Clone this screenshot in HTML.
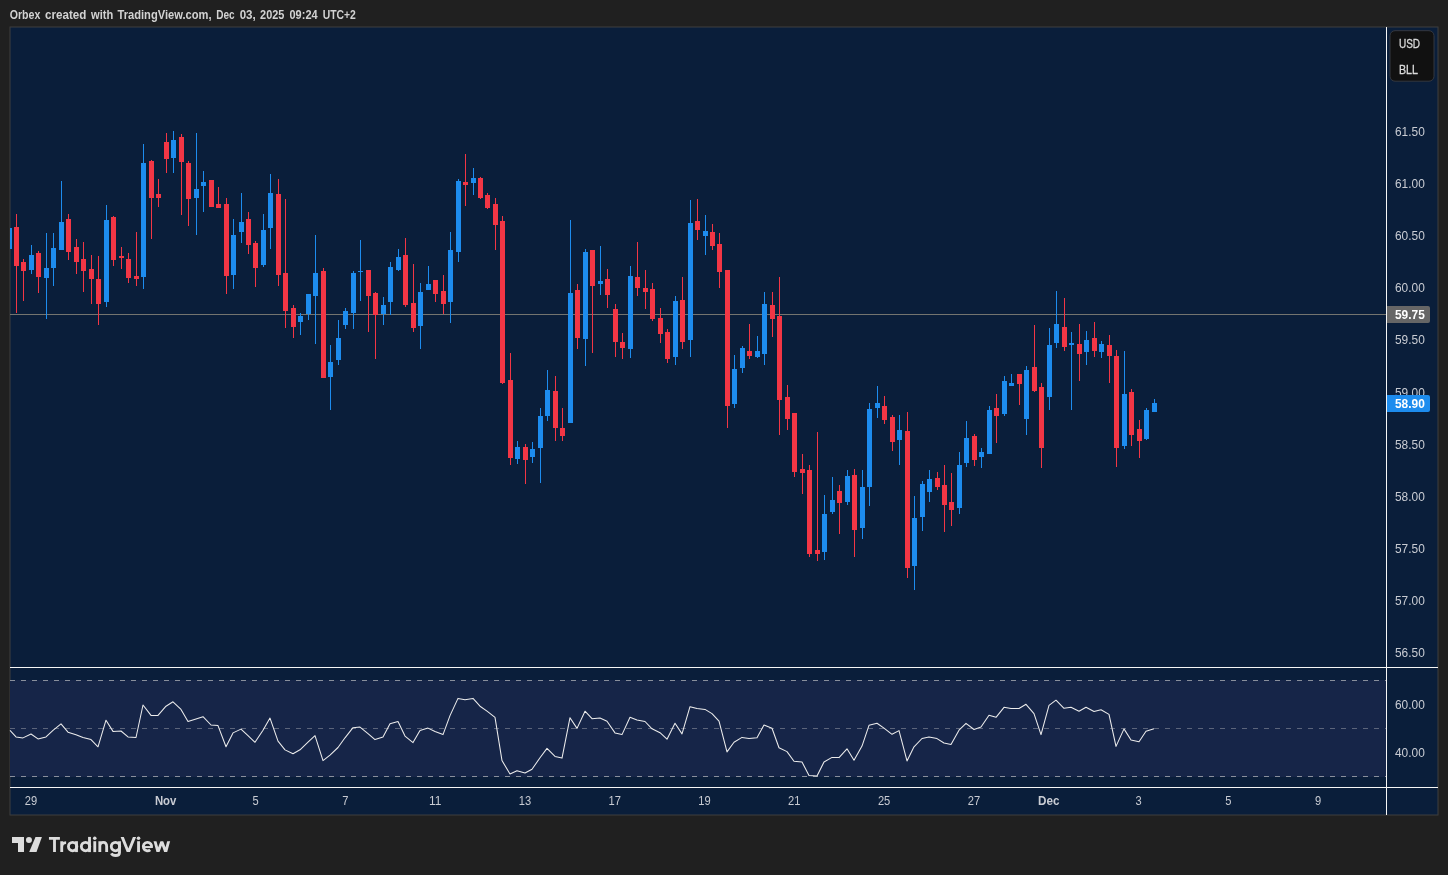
<!DOCTYPE html>
<html><head><meta charset="utf-8"><title>chart</title>
<style>
html,body{margin:0;padding:0;}
body{width:1448px;height:875px;background:#202020;overflow:hidden;position:relative;font-family:"Liberation Sans",sans-serif;}
svg{position:absolute;left:0;top:0;will-change:transform;}
text{font-family:"Liberation Sans",sans-serif;}
</style></head><body>
<svg width="1448" height="875" viewBox="0 0 1448 875">
<rect x="10" y="27" width="1428" height="788" fill="#0a1e3a" stroke="#3e3e3e" stroke-width="1"/>
<defs><clipPath id="cp"><rect x="10" y="27" width="1376" height="640"/></clipPath></defs>
<rect x="10" y="680" width="1376" height="97" fill="#162548" shape-rendering="crispEdges"/>
<line x1="10" y1="680.5" x2="1386" y2="680.5" stroke="#d0d0d0" stroke-opacity="0.62" stroke-width="1" stroke-dasharray="5 6" shape-rendering="crispEdges"/>
<line x1="10" y1="728.5" x2="1386" y2="728.5" stroke="#d0d0d0" stroke-opacity="0.38" stroke-width="1" stroke-dasharray="5 6" shape-rendering="crispEdges"/>
<line x1="10" y1="776.5" x2="1386" y2="776.5" stroke="#d0d0d0" stroke-opacity="0.62" stroke-width="1" stroke-dasharray="5 6" shape-rendering="crispEdges"/>
<rect x="10" y="314" width="1376" height="1" fill="#74746f" shape-rendering="crispEdges"/>
<g clip-path="url(#cp)" shape-rendering="crispEdges">
<rect x="9" y="228" width="1" height="21" fill="#1d8cee"/>
<rect x="7" y="228" width="5" height="21" fill="#1d8cee"/>
<rect x="16" y="214" width="1" height="99" fill="#f23645"/>
<rect x="14" y="227" width="5" height="39" fill="#f23645"/>
<rect x="23" y="259" width="1" height="42" fill="#f23645"/>
<rect x="21" y="262" width="5" height="9" fill="#f23645"/>
<rect x="31" y="245" width="1" height="29" fill="#1d8cee"/>
<rect x="29" y="255" width="5" height="15" fill="#1d8cee"/>
<rect x="38" y="251" width="1" height="42" fill="#f23645"/>
<rect x="36" y="253" width="5" height="24" fill="#f23645"/>
<rect x="46" y="233" width="1" height="86" fill="#1d8cee"/>
<rect x="44" y="268" width="5" height="10" fill="#1d8cee"/>
<rect x="53" y="233" width="1" height="53" fill="#1d8cee"/>
<rect x="51" y="248" width="5" height="20" fill="#1d8cee"/>
<rect x="61" y="181" width="1" height="69" fill="#1d8cee"/>
<rect x="59" y="222" width="5" height="28" fill="#1d8cee"/>
<rect x="68" y="214" width="1" height="46" fill="#f23645"/>
<rect x="66" y="219" width="5" height="33" fill="#f23645"/>
<rect x="76" y="239" width="1" height="35" fill="#f23645"/>
<rect x="74" y="247" width="5" height="15" fill="#f23645"/>
<rect x="83" y="242" width="1" height="50" fill="#f23645"/>
<rect x="81" y="259" width="5" height="12" fill="#f23645"/>
<rect x="91" y="255" width="1" height="49" fill="#f23645"/>
<rect x="89" y="269" width="5" height="10" fill="#f23645"/>
<rect x="98" y="256" width="1" height="69" fill="#f23645"/>
<rect x="96" y="279" width="5" height="25" fill="#f23645"/>
<rect x="106" y="205" width="1" height="102" fill="#1d8cee"/>
<rect x="104" y="220" width="5" height="82" fill="#1d8cee"/>
<rect x="113" y="216" width="1" height="50" fill="#f23645"/>
<rect x="111" y="217" width="5" height="43" fill="#f23645"/>
<rect x="121" y="247" width="1" height="22" fill="#f23645"/>
<rect x="119" y="256" width="5" height="2" fill="#f23645"/>
<rect x="128" y="253" width="1" height="30" fill="#f23645"/>
<rect x="126" y="259" width="5" height="19" fill="#f23645"/>
<rect x="136" y="232" width="1" height="54" fill="#f23645"/>
<rect x="134" y="276" width="5" height="3" fill="#f23645"/>
<rect x="143" y="144" width="1" height="145" fill="#1d8cee"/>
<rect x="141" y="163" width="5" height="114" fill="#1d8cee"/>
<rect x="151" y="160" width="1" height="79" fill="#f23645"/>
<rect x="149" y="161" width="5" height="37" fill="#f23645"/>
<rect x="158" y="179" width="1" height="28" fill="#f23645"/>
<rect x="156" y="194" width="5" height="4" fill="#f23645"/>
<rect x="166" y="133" width="1" height="40" fill="#f23645"/>
<rect x="164" y="142" width="5" height="17" fill="#f23645"/>
<rect x="173" y="131" width="1" height="42" fill="#1d8cee"/>
<rect x="171" y="140" width="5" height="18" fill="#1d8cee"/>
<rect x="181" y="134" width="1" height="81" fill="#f23645"/>
<rect x="179" y="137" width="5" height="25" fill="#f23645"/>
<rect x="188" y="161" width="1" height="65" fill="#f23645"/>
<rect x="186" y="163" width="5" height="36" fill="#f23645"/>
<rect x="196" y="133" width="1" height="102" fill="#1d8cee"/>
<rect x="194" y="189" width="5" height="9" fill="#1d8cee"/>
<rect x="203" y="171" width="1" height="41" fill="#1d8cee"/>
<rect x="201" y="182" width="5" height="4" fill="#1d8cee"/>
<rect x="211" y="180" width="1" height="27" fill="#f23645"/>
<rect x="209" y="180" width="5" height="27" fill="#f23645"/>
<rect x="218" y="187" width="1" height="21" fill="#f23645"/>
<rect x="216" y="204" width="5" height="4" fill="#f23645"/>
<rect x="226" y="198" width="1" height="96" fill="#f23645"/>
<rect x="224" y="204" width="5" height="72" fill="#f23645"/>
<rect x="233" y="219" width="1" height="70" fill="#1d8cee"/>
<rect x="231" y="235" width="5" height="40" fill="#1d8cee"/>
<rect x="241" y="193" width="1" height="50" fill="#1d8cee"/>
<rect x="239" y="222" width="5" height="10" fill="#1d8cee"/>
<rect x="248" y="212" width="1" height="42" fill="#f23645"/>
<rect x="246" y="219" width="5" height="26" fill="#f23645"/>
<rect x="255" y="241" width="1" height="46" fill="#f23645"/>
<rect x="253" y="243" width="5" height="25" fill="#f23645"/>
<rect x="263" y="214" width="1" height="53" fill="#1d8cee"/>
<rect x="261" y="230" width="5" height="35" fill="#1d8cee"/>
<rect x="270" y="174" width="1" height="75" fill="#1d8cee"/>
<rect x="268" y="193" width="5" height="35" fill="#1d8cee"/>
<rect x="278" y="179" width="1" height="107" fill="#f23645"/>
<rect x="276" y="194" width="5" height="81" fill="#f23645"/>
<rect x="285" y="199" width="1" height="129" fill="#f23645"/>
<rect x="283" y="273" width="5" height="38" fill="#f23645"/>
<rect x="293" y="305" width="1" height="33" fill="#f23645"/>
<rect x="291" y="308" width="5" height="19" fill="#f23645"/>
<rect x="300" y="313" width="1" height="22" fill="#1d8cee"/>
<rect x="298" y="316" width="5" height="6" fill="#1d8cee"/>
<rect x="308" y="294" width="1" height="26" fill="#1d8cee"/>
<rect x="306" y="294" width="5" height="20" fill="#1d8cee"/>
<rect x="315" y="235" width="1" height="109" fill="#1d8cee"/>
<rect x="313" y="273" width="5" height="23" fill="#1d8cee"/>
<rect x="323" y="268" width="1" height="110" fill="#f23645"/>
<rect x="321" y="271" width="5" height="107" fill="#f23645"/>
<rect x="330" y="345" width="1" height="65" fill="#1d8cee"/>
<rect x="328" y="362" width="5" height="15" fill="#1d8cee"/>
<rect x="338" y="320" width="1" height="45" fill="#1d8cee"/>
<rect x="336" y="338" width="5" height="22" fill="#1d8cee"/>
<rect x="345" y="308" width="1" height="21" fill="#1d8cee"/>
<rect x="343" y="311" width="5" height="14" fill="#1d8cee"/>
<rect x="353" y="271" width="1" height="58" fill="#1d8cee"/>
<rect x="351" y="273" width="5" height="40" fill="#1d8cee"/>
<rect x="360" y="240" width="1" height="61" fill="#1d8cee"/>
<rect x="358" y="271" width="5" height="1" fill="#1d8cee"/>
<rect x="368" y="270" width="1" height="62" fill="#f23645"/>
<rect x="366" y="270" width="5" height="26" fill="#f23645"/>
<rect x="375" y="292" width="1" height="67" fill="#f23645"/>
<rect x="373" y="293" width="5" height="22" fill="#f23645"/>
<rect x="383" y="297" width="1" height="28" fill="#1d8cee"/>
<rect x="381" y="305" width="5" height="9" fill="#1d8cee"/>
<rect x="390" y="262" width="1" height="53" fill="#1d8cee"/>
<rect x="388" y="267" width="5" height="35" fill="#1d8cee"/>
<rect x="398" y="249" width="1" height="22" fill="#1d8cee"/>
<rect x="396" y="257" width="5" height="13" fill="#1d8cee"/>
<rect x="405" y="238" width="1" height="69" fill="#f23645"/>
<rect x="403" y="255" width="5" height="50" fill="#f23645"/>
<rect x="413" y="264" width="1" height="68" fill="#f23645"/>
<rect x="411" y="303" width="5" height="25" fill="#f23645"/>
<rect x="420" y="283" width="1" height="66" fill="#1d8cee"/>
<rect x="418" y="292" width="5" height="34" fill="#1d8cee"/>
<rect x="428" y="266" width="1" height="24" fill="#1d8cee"/>
<rect x="426" y="284" width="5" height="6" fill="#1d8cee"/>
<rect x="435" y="280" width="1" height="22" fill="#f23645"/>
<rect x="433" y="280" width="5" height="14" fill="#f23645"/>
<rect x="443" y="275" width="1" height="39" fill="#f23645"/>
<rect x="441" y="291" width="5" height="13" fill="#f23645"/>
<rect x="450" y="232" width="1" height="91" fill="#1d8cee"/>
<rect x="448" y="250" width="5" height="52" fill="#1d8cee"/>
<rect x="458" y="179" width="1" height="83" fill="#1d8cee"/>
<rect x="456" y="181" width="5" height="71" fill="#1d8cee"/>
<rect x="465" y="154" width="1" height="52" fill="#f23645"/>
<rect x="463" y="182" width="5" height="3" fill="#f23645"/>
<rect x="473" y="168" width="1" height="27" fill="#1d8cee"/>
<rect x="471" y="178" width="5" height="5" fill="#1d8cee"/>
<rect x="480" y="177" width="1" height="22" fill="#f23645"/>
<rect x="478" y="178" width="5" height="20" fill="#f23645"/>
<rect x="487" y="193" width="1" height="16" fill="#f23645"/>
<rect x="485" y="195" width="5" height="13" fill="#f23645"/>
<rect x="495" y="198" width="1" height="52" fill="#f23645"/>
<rect x="493" y="204" width="5" height="21" fill="#f23645"/>
<rect x="502" y="216" width="1" height="168" fill="#f23645"/>
<rect x="500" y="221" width="5" height="162" fill="#f23645"/>
<rect x="510" y="353" width="1" height="112" fill="#f23645"/>
<rect x="508" y="380" width="5" height="78" fill="#f23645"/>
<rect x="517" y="441" width="1" height="23" fill="#1d8cee"/>
<rect x="515" y="447" width="5" height="12" fill="#1d8cee"/>
<rect x="525" y="444" width="1" height="40" fill="#f23645"/>
<rect x="523" y="447" width="5" height="13" fill="#f23645"/>
<rect x="532" y="442" width="1" height="21" fill="#1d8cee"/>
<rect x="530" y="449" width="5" height="8" fill="#1d8cee"/>
<rect x="540" y="408" width="1" height="75" fill="#1d8cee"/>
<rect x="538" y="416" width="5" height="32" fill="#1d8cee"/>
<rect x="547" y="370" width="1" height="51" fill="#1d8cee"/>
<rect x="545" y="390" width="5" height="26" fill="#1d8cee"/>
<rect x="555" y="376" width="1" height="65" fill="#f23645"/>
<rect x="553" y="391" width="5" height="37" fill="#f23645"/>
<rect x="562" y="408" width="1" height="33" fill="#f23645"/>
<rect x="560" y="428" width="5" height="8" fill="#f23645"/>
<rect x="570" y="220" width="1" height="203" fill="#1d8cee"/>
<rect x="568" y="293" width="5" height="130" fill="#1d8cee"/>
<rect x="577" y="284" width="1" height="65" fill="#f23645"/>
<rect x="575" y="290" width="5" height="48" fill="#f23645"/>
<rect x="585" y="249" width="1" height="117" fill="#1d8cee"/>
<rect x="583" y="252" width="5" height="87" fill="#1d8cee"/>
<rect x="592" y="250" width="1" height="103" fill="#f23645"/>
<rect x="590" y="250" width="5" height="36" fill="#f23645"/>
<rect x="600" y="246" width="1" height="49" fill="#1d8cee"/>
<rect x="598" y="281" width="5" height="3" fill="#1d8cee"/>
<rect x="607" y="269" width="1" height="39" fill="#f23645"/>
<rect x="605" y="279" width="5" height="16" fill="#f23645"/>
<rect x="615" y="304" width="1" height="53" fill="#f23645"/>
<rect x="613" y="309" width="5" height="33" fill="#f23645"/>
<rect x="622" y="333" width="1" height="26" fill="#f23645"/>
<rect x="620" y="342" width="5" height="6" fill="#f23645"/>
<rect x="630" y="266" width="1" height="92" fill="#1d8cee"/>
<rect x="628" y="276" width="5" height="73" fill="#1d8cee"/>
<rect x="637" y="242" width="1" height="54" fill="#f23645"/>
<rect x="635" y="277" width="5" height="11" fill="#f23645"/>
<rect x="645" y="270" width="1" height="39" fill="#f23645"/>
<rect x="643" y="288" width="5" height="4" fill="#f23645"/>
<rect x="652" y="283" width="1" height="38" fill="#f23645"/>
<rect x="650" y="289" width="5" height="30" fill="#f23645"/>
<rect x="660" y="308" width="1" height="35" fill="#f23645"/>
<rect x="658" y="318" width="5" height="16" fill="#f23645"/>
<rect x="667" y="329" width="1" height="34" fill="#f23645"/>
<rect x="665" y="332" width="5" height="27" fill="#f23645"/>
<rect x="675" y="296" width="1" height="69" fill="#1d8cee"/>
<rect x="673" y="301" width="5" height="56" fill="#1d8cee"/>
<rect x="682" y="277" width="1" height="72" fill="#f23645"/>
<rect x="680" y="300" width="5" height="42" fill="#f23645"/>
<rect x="690" y="200" width="1" height="157" fill="#1d8cee"/>
<rect x="688" y="223" width="5" height="117" fill="#1d8cee"/>
<rect x="697" y="199" width="1" height="41" fill="#f23645"/>
<rect x="695" y="221" width="5" height="9" fill="#f23645"/>
<rect x="705" y="215" width="1" height="40" fill="#1d8cee"/>
<rect x="703" y="231" width="5" height="5" fill="#1d8cee"/>
<rect x="712" y="224" width="1" height="26" fill="#f23645"/>
<rect x="710" y="232" width="5" height="14" fill="#f23645"/>
<rect x="719" y="233" width="1" height="55" fill="#f23645"/>
<rect x="717" y="244" width="5" height="28" fill="#f23645"/>
<rect x="727" y="270" width="1" height="158" fill="#f23645"/>
<rect x="725" y="270" width="5" height="136" fill="#f23645"/>
<rect x="734" y="355" width="1" height="53" fill="#1d8cee"/>
<rect x="732" y="369" width="5" height="35" fill="#1d8cee"/>
<rect x="742" y="346" width="1" height="27" fill="#1d8cee"/>
<rect x="740" y="348" width="5" height="20" fill="#1d8cee"/>
<rect x="749" y="324" width="1" height="35" fill="#f23645"/>
<rect x="747" y="351" width="5" height="5" fill="#f23645"/>
<rect x="757" y="336" width="1" height="22" fill="#1d8cee"/>
<rect x="755" y="351" width="5" height="6" fill="#1d8cee"/>
<rect x="764" y="292" width="1" height="73" fill="#1d8cee"/>
<rect x="762" y="304" width="5" height="50" fill="#1d8cee"/>
<rect x="772" y="292" width="1" height="45" fill="#f23645"/>
<rect x="770" y="305" width="5" height="14" fill="#f23645"/>
<rect x="779" y="277" width="1" height="158" fill="#f23645"/>
<rect x="777" y="316" width="5" height="84" fill="#f23645"/>
<rect x="787" y="385" width="1" height="45" fill="#f23645"/>
<rect x="785" y="397" width="5" height="22" fill="#f23645"/>
<rect x="794" y="413" width="1" height="64" fill="#f23645"/>
<rect x="792" y="413" width="5" height="59" fill="#f23645"/>
<rect x="802" y="454" width="1" height="40" fill="#f23645"/>
<rect x="800" y="469" width="5" height="4" fill="#f23645"/>
<rect x="809" y="465" width="1" height="92" fill="#f23645"/>
<rect x="807" y="470" width="5" height="84" fill="#f23645"/>
<rect x="817" y="432" width="1" height="129" fill="#f23645"/>
<rect x="815" y="550" width="5" height="4" fill="#f23645"/>
<rect x="824" y="495" width="1" height="65" fill="#1d8cee"/>
<rect x="822" y="514" width="5" height="38" fill="#1d8cee"/>
<rect x="832" y="477" width="1" height="37" fill="#1d8cee"/>
<rect x="830" y="500" width="5" height="12" fill="#1d8cee"/>
<rect x="839" y="485" width="1" height="49" fill="#f23645"/>
<rect x="837" y="491" width="5" height="12" fill="#f23645"/>
<rect x="847" y="470" width="1" height="35" fill="#1d8cee"/>
<rect x="845" y="476" width="5" height="26" fill="#1d8cee"/>
<rect x="854" y="469" width="1" height="88" fill="#f23645"/>
<rect x="852" y="475" width="5" height="55" fill="#f23645"/>
<rect x="862" y="470" width="1" height="69" fill="#1d8cee"/>
<rect x="860" y="487" width="5" height="41" fill="#1d8cee"/>
<rect x="869" y="403" width="1" height="103" fill="#1d8cee"/>
<rect x="867" y="409" width="5" height="78" fill="#1d8cee"/>
<rect x="877" y="386" width="1" height="32" fill="#1d8cee"/>
<rect x="875" y="403" width="5" height="5" fill="#1d8cee"/>
<rect x="884" y="396" width="1" height="28" fill="#f23645"/>
<rect x="882" y="406" width="5" height="14" fill="#f23645"/>
<rect x="892" y="415" width="1" height="36" fill="#f23645"/>
<rect x="890" y="417" width="5" height="25" fill="#f23645"/>
<rect x="899" y="415" width="1" height="50" fill="#1d8cee"/>
<rect x="897" y="430" width="5" height="10" fill="#1d8cee"/>
<rect x="907" y="412" width="1" height="166" fill="#f23645"/>
<rect x="905" y="431" width="5" height="137" fill="#f23645"/>
<rect x="914" y="496" width="1" height="94" fill="#1d8cee"/>
<rect x="912" y="518" width="5" height="48" fill="#1d8cee"/>
<rect x="922" y="481" width="1" height="50" fill="#1d8cee"/>
<rect x="920" y="484" width="5" height="33" fill="#1d8cee"/>
<rect x="929" y="470" width="1" height="32" fill="#1d8cee"/>
<rect x="927" y="479" width="5" height="13" fill="#1d8cee"/>
<rect x="937" y="472" width="1" height="18" fill="#f23645"/>
<rect x="935" y="478" width="5" height="9" fill="#f23645"/>
<rect x="944" y="465" width="1" height="67" fill="#f23645"/>
<rect x="942" y="485" width="5" height="20" fill="#f23645"/>
<rect x="951" y="473" width="1" height="53" fill="#f23645"/>
<rect x="949" y="502" width="5" height="8" fill="#f23645"/>
<rect x="959" y="452" width="1" height="62" fill="#1d8cee"/>
<rect x="957" y="465" width="5" height="43" fill="#1d8cee"/>
<rect x="966" y="421" width="1" height="46" fill="#1d8cee"/>
<rect x="964" y="438" width="5" height="25" fill="#1d8cee"/>
<rect x="974" y="434" width="1" height="32" fill="#f23645"/>
<rect x="972" y="436" width="5" height="24" fill="#f23645"/>
<rect x="981" y="448" width="1" height="20" fill="#1d8cee"/>
<rect x="979" y="452" width="5" height="5" fill="#1d8cee"/>
<rect x="989" y="406" width="1" height="48" fill="#1d8cee"/>
<rect x="987" y="410" width="5" height="44" fill="#1d8cee"/>
<rect x="996" y="394" width="1" height="49" fill="#f23645"/>
<rect x="994" y="408" width="5" height="8" fill="#f23645"/>
<rect x="1004" y="376" width="1" height="40" fill="#1d8cee"/>
<rect x="1002" y="381" width="5" height="33" fill="#1d8cee"/>
<rect x="1011" y="374" width="1" height="12" fill="#1d8cee"/>
<rect x="1009" y="383" width="5" height="3" fill="#1d8cee"/>
<rect x="1019" y="374" width="1" height="31" fill="#f23645"/>
<rect x="1017" y="374" width="5" height="10" fill="#f23645"/>
<rect x="1026" y="366" width="1" height="69" fill="#1d8cee"/>
<rect x="1024" y="370" width="5" height="49" fill="#1d8cee"/>
<rect x="1034" y="325" width="1" height="67" fill="#f23645"/>
<rect x="1032" y="367" width="5" height="24" fill="#f23645"/>
<rect x="1041" y="383" width="1" height="85" fill="#f23645"/>
<rect x="1039" y="387" width="5" height="61" fill="#f23645"/>
<rect x="1049" y="328" width="1" height="82" fill="#1d8cee"/>
<rect x="1047" y="345" width="5" height="52" fill="#1d8cee"/>
<rect x="1056" y="291" width="1" height="57" fill="#1d8cee"/>
<rect x="1054" y="324" width="5" height="19" fill="#1d8cee"/>
<rect x="1064" y="298" width="1" height="53" fill="#f23645"/>
<rect x="1062" y="327" width="5" height="20" fill="#f23645"/>
<rect x="1071" y="332" width="1" height="78" fill="#1d8cee"/>
<rect x="1069" y="343" width="5" height="2" fill="#1d8cee"/>
<rect x="1079" y="324" width="1" height="57" fill="#f23645"/>
<rect x="1077" y="344" width="5" height="10" fill="#f23645"/>
<rect x="1086" y="331" width="1" height="34" fill="#1d8cee"/>
<rect x="1084" y="340" width="5" height="12" fill="#1d8cee"/>
<rect x="1094" y="322" width="1" height="35" fill="#f23645"/>
<rect x="1092" y="338" width="5" height="13" fill="#f23645"/>
<rect x="1101" y="341" width="1" height="17" fill="#1d8cee"/>
<rect x="1099" y="344" width="5" height="8" fill="#1d8cee"/>
<rect x="1109" y="335" width="1" height="48" fill="#f23645"/>
<rect x="1107" y="345" width="5" height="11" fill="#f23645"/>
<rect x="1116" y="350" width="1" height="117" fill="#f23645"/>
<rect x="1114" y="356" width="5" height="92" fill="#f23645"/>
<rect x="1124" y="351" width="1" height="98" fill="#1d8cee"/>
<rect x="1122" y="394" width="5" height="52" fill="#1d8cee"/>
<rect x="1131" y="389" width="1" height="57" fill="#f23645"/>
<rect x="1129" y="392" width="5" height="43" fill="#f23645"/>
<rect x="1139" y="420" width="1" height="38" fill="#f23645"/>
<rect x="1137" y="429" width="5" height="12" fill="#f23645"/>
<rect x="1146" y="408" width="1" height="32" fill="#1d8cee"/>
<rect x="1144" y="410" width="5" height="29" fill="#1d8cee"/>
<rect x="1154" y="399" width="1" height="13" fill="#1d8cee"/>
<rect x="1152" y="403" width="5" height="9" fill="#1d8cee"/>
</g>
<polyline points="10.0,730.4 16.0,736.9 23.0,737.9 31.0,734.0 38.0,738.9 46.0,736.9 53.0,730.4 61.0,723.9 68.0,732.2 76.0,734.7 83.0,737.4 91.0,739.6 98.0,746.8 106.0,720.2 113.0,731.4 121.0,731.0 128.0,736.9 136.0,737.5 143.0,705.0 151.0,715.4 158.0,715.4 166.0,706.2 173.0,701.8 181.0,709.4 188.0,721.5 196.0,718.9 203.0,716.7 211.0,725.0 218.0,725.6 226.0,746.8 233.0,732.9 241.0,729.1 248.0,735.7 255.0,742.3 263.0,730.2 270.0,718.1 278.0,741.2 285.0,749.9 293.0,753.8 300.0,749.8 308.0,742.2 315.0,735.7 323.0,760.6 330.0,755.1 338.0,747.5 345.0,737.8 353.0,727.7 360.0,727.1 368.0,733.6 375.0,739.6 383.0,737.1 390.0,723.7 398.0,721.5 405.0,736.1 413.0,742.6 420.0,730.6 428.0,728.1 435.0,731.5 443.0,734.6 450.0,715.6 458.0,698.4 465.0,699.7 473.0,698.4 480.0,706.2 487.0,711.1 495.0,717.3 502.0,760.6 510.0,774.0 517.0,770.7 525.0,773.0 532.0,769.2 540.0,757.8 547.0,748.4 555.0,756.4 562.0,758.1 570.0,717.7 577.0,728.4 585.0,711.2 592.0,718.7 600.0,718.0 607.0,721.2 615.0,732.9 622.0,734.6 630.0,717.3 637.0,720.1 645.0,721.5 652.0,728.8 660.0,732.7 667.0,739.2 675.0,723.3 682.0,733.9 690.0,706.7 697.0,708.5 705.0,709.4 712.0,713.6 719.0,721.2 727.0,751.9 734.0,742.3 742.0,737.4 749.0,738.6 757.0,737.8 764.0,725.0 772.0,728.3 779.0,747.7 787.0,751.6 794.0,761.3 802.0,762.0 809.0,775.4 817.0,775.9 824.0,762.0 832.0,757.4 839.0,757.6 847.0,748.8 854.0,760.3 862.0,746.1 869.0,725.3 877.0,723.3 884.0,728.1 892.0,734.3 899.0,730.6 907.0,760.9 914.0,746.8 922.0,738.5 929.0,736.9 937.0,738.6 944.0,743.0 951.0,744.5 959.0,730.2 966.0,723.3 974.0,729.5 981.0,727.0 989.0,715.2 996.0,717.3 1004.0,707.3 1011.0,708.5 1019.0,708.5 1026.0,704.3 1034.0,713.6 1041.0,734.6 1049.0,705.3 1056.0,700.2 1064.0,708.3 1071.0,707.3 1079.0,711.2 1086.0,707.3 1094.0,711.5 1101.0,709.7 1109.0,714.4 1116.0,746.4 1124.0,728.9 1131.0,740.0 1139.0,741.7 1146.0,731.3 1154.0,728.7" fill="none" stroke="#ececec" stroke-width="1.05" stroke-linejoin="round"/>
<g shape-rendering="crispEdges" fill="#f6f6f6">
<rect x="10" y="667" width="1428" height="1"/>
<rect x="10" y="787" width="1428" height="1"/>
<rect x="1386" y="27" width="1" height="788"/>
</g>
<text opacity="0.999" x="1395" y="136.2" font-size="12.4" font-weight="normal" fill="#c9ccd3" text-anchor="start" textLength="29.8" lengthAdjust="spacingAndGlyphs">61.50</text>
<text opacity="0.999" x="1395" y="188.2" font-size="12.4" font-weight="normal" fill="#c9ccd3" text-anchor="start" textLength="29.8" lengthAdjust="spacingAndGlyphs">61.00</text>
<text opacity="0.999" x="1395" y="240.3" font-size="12.4" font-weight="normal" fill="#c9ccd3" text-anchor="start" textLength="29.8" lengthAdjust="spacingAndGlyphs">60.50</text>
<text opacity="0.999" x="1395" y="292.4" font-size="12.4" font-weight="normal" fill="#c9ccd3" text-anchor="start" textLength="29.8" lengthAdjust="spacingAndGlyphs">60.00</text>
<text opacity="0.999" x="1395" y="344.4" font-size="12.4" font-weight="normal" fill="#c9ccd3" text-anchor="start" textLength="29.8" lengthAdjust="spacingAndGlyphs">59.50</text>
<text opacity="0.999" x="1395" y="396.5" font-size="12.4" font-weight="normal" fill="#c9ccd3" text-anchor="start" textLength="29.8" lengthAdjust="spacingAndGlyphs">59.00</text>
<text opacity="0.999" x="1395" y="448.5" font-size="12.4" font-weight="normal" fill="#c9ccd3" text-anchor="start" textLength="29.8" lengthAdjust="spacingAndGlyphs">58.50</text>
<text opacity="0.999" x="1395" y="500.5" font-size="12.4" font-weight="normal" fill="#c9ccd3" text-anchor="start" textLength="29.8" lengthAdjust="spacingAndGlyphs">58.00</text>
<text opacity="0.999" x="1395" y="552.6" font-size="12.4" font-weight="normal" fill="#c9ccd3" text-anchor="start" textLength="29.8" lengthAdjust="spacingAndGlyphs">57.50</text>
<text opacity="0.999" x="1395" y="604.6" font-size="12.4" font-weight="normal" fill="#c9ccd3" text-anchor="start" textLength="29.8" lengthAdjust="spacingAndGlyphs">57.00</text>
<text opacity="0.999" x="1395" y="656.7" font-size="12.4" font-weight="normal" fill="#c9ccd3" text-anchor="start" textLength="29.8" lengthAdjust="spacingAndGlyphs">56.50</text>
<text opacity="0.999" x="1395" y="709.0" font-size="12.4" font-weight="normal" fill="#c9ccd3" text-anchor="start" textLength="29.8" lengthAdjust="spacingAndGlyphs">60.00</text>
<text opacity="0.999" x="1395" y="757.3" font-size="12.4" font-weight="normal" fill="#c9ccd3" text-anchor="start" textLength="29.8" lengthAdjust="spacingAndGlyphs">40.00</text>
<path d="M1387 306h41a2 2 0 0 1 2 2v13a2 2 0 0 1 -2 2h-41z" fill="#666666"/>
<text opacity="0.999" x="1395" y="319.2" font-size="12.4" font-weight="bold" fill="#ffffff" text-anchor="start" textLength="29.8" lengthAdjust="spacingAndGlyphs">59.75</text>
<path d="M1387 395h41a2 2 0 0 1 2 2v13a2 2 0 0 1 -2 2h-41z" fill="#1d8cee"/>
<text opacity="0.999" x="1395" y="408.2" font-size="12.4" font-weight="bold" fill="#ffffff" text-anchor="start" textLength="29.8" lengthAdjust="spacingAndGlyphs">58.90</text>
<rect x="1390" y="30.7" width="44" height="50.5" rx="5" ry="5" fill="#111111" stroke="#343840" stroke-width="1"/>
<text opacity="0.999" x="1398.9" y="47.9" font-size="12.2" fill="#dadada" stroke="#dadada" stroke-width="0.3" textLength="21.2" lengthAdjust="spacingAndGlyphs">USD</text>
<text opacity="0.999" x="1398.9" y="73.8" font-size="12.2" fill="#dadada" stroke="#dadada" stroke-width="0.3" textLength="19.0" lengthAdjust="spacingAndGlyphs">BLL</text>
<text opacity="0.999" x="24.8" y="805.0" font-size="12.4" font-weight="normal" fill="#c9ccd3" text-anchor="start" textLength="12.4" lengthAdjust="spacingAndGlyphs">29</text>
<text opacity="0.999" x="154.9" y="805.0" font-size="12.4" font-weight="bold" fill="#c9ccd3" text-anchor="start" textLength="21.5" lengthAdjust="spacingAndGlyphs">Nov</text>
<text opacity="0.999" x="252.4" y="805.0" font-size="12.4" font-weight="normal" fill="#c9ccd3" text-anchor="start" textLength="6.2" lengthAdjust="spacingAndGlyphs">5</text>
<text opacity="0.999" x="342.2" y="805.0" font-size="12.4" font-weight="normal" fill="#c9ccd3" text-anchor="start" textLength="6.2" lengthAdjust="spacingAndGlyphs">7</text>
<text opacity="0.999" x="428.9" y="805.0" font-size="12.4" font-weight="normal" fill="#c9ccd3" text-anchor="start" textLength="12.4" lengthAdjust="spacingAndGlyphs">11</text>
<text opacity="0.999" x="518.7" y="805.0" font-size="12.4" font-weight="normal" fill="#c9ccd3" text-anchor="start" textLength="12.4" lengthAdjust="spacingAndGlyphs">13</text>
<text opacity="0.999" x="608.5" y="805.0" font-size="12.4" font-weight="normal" fill="#c9ccd3" text-anchor="start" textLength="12.4" lengthAdjust="spacingAndGlyphs">17</text>
<text opacity="0.999" x="698.3" y="805.0" font-size="12.4" font-weight="normal" fill="#c9ccd3" text-anchor="start" textLength="12.4" lengthAdjust="spacingAndGlyphs">19</text>
<text opacity="0.999" x="788.1" y="805.0" font-size="12.4" font-weight="normal" fill="#c9ccd3" text-anchor="start" textLength="12.4" lengthAdjust="spacingAndGlyphs">21</text>
<text opacity="0.999" x="877.9" y="805.0" font-size="12.4" font-weight="normal" fill="#c9ccd3" text-anchor="start" textLength="12.4" lengthAdjust="spacingAndGlyphs">25</text>
<text opacity="0.999" x="967.7" y="805.0" font-size="12.4" font-weight="normal" fill="#c9ccd3" text-anchor="start" textLength="12.4" lengthAdjust="spacingAndGlyphs">27</text>
<text opacity="0.999" x="1038.0" y="805.0" font-size="12.4" font-weight="bold" fill="#c9ccd3" text-anchor="start" textLength="21.5" lengthAdjust="spacingAndGlyphs">Dec</text>
<text opacity="0.999" x="1135.5" y="805.0" font-size="12.4" font-weight="normal" fill="#c9ccd3" text-anchor="start" textLength="6.2" lengthAdjust="spacingAndGlyphs">3</text>
<text opacity="0.999" x="1225.3" y="805.0" font-size="12.4" font-weight="normal" fill="#c9ccd3" text-anchor="start" textLength="6.2" lengthAdjust="spacingAndGlyphs">5</text>
<text opacity="0.999" x="1315.1" y="805.0" font-size="12.4" font-weight="normal" fill="#c9ccd3" text-anchor="start" textLength="6.2" lengthAdjust="spacingAndGlyphs">9</text>
<text opacity="0.999" x="9.7" y="19.2" font-size="12.3" font-weight="bold" fill="#d2d2d2" textLength="30.7" lengthAdjust="spacingAndGlyphs">Orbex</text>
<text opacity="0.999" x="45.0" y="19.2" font-size="12.3" font-weight="bold" fill="#d2d2d2" textLength="41.4" lengthAdjust="spacingAndGlyphs">created</text>
<text opacity="0.999" x="91.0" y="19.2" font-size="12.3" font-weight="bold" fill="#d2d2d2" textLength="22.2" lengthAdjust="spacingAndGlyphs">with</text>
<text opacity="0.999" x="117.5" y="19.2" font-size="12.3" font-weight="bold" fill="#d2d2d2" textLength="94.1" lengthAdjust="spacingAndGlyphs">TradingView.com,</text>
<text opacity="0.999" x="216.2" y="19.2" font-size="12.3" font-weight="bold" fill="#d2d2d2" textLength="18.4" lengthAdjust="spacingAndGlyphs">Dec</text>
<text opacity="0.999" x="239.7" y="19.2" font-size="12.3" font-weight="bold" fill="#d2d2d2" textLength="16.1" lengthAdjust="spacingAndGlyphs">03,</text>
<text opacity="0.999" x="260.1" y="19.2" font-size="12.3" font-weight="bold" fill="#d2d2d2" textLength="24.3" lengthAdjust="spacingAndGlyphs">2025</text>
<text opacity="0.999" x="289.5" y="19.2" font-size="12.3" font-weight="bold" fill="#d2d2d2" textLength="28.1" lengthAdjust="spacingAndGlyphs">09:24</text>
<text opacity="0.999" x="322.7" y="19.2" font-size="12.3" font-weight="bold" fill="#d2d2d2" textLength="33.2" lengthAdjust="spacingAndGlyphs">UTC+2</text>
<g fill="#dcdcdc"><path d="M12 837H24V852H18V843H12Z"/><circle cx="28.95" cy="840" r="3"/><path d="M35.5 837H41.9L36.5 852H29.2Z"/></g>
<defs><clipPath id="lc"><rect x="150" y="841.2" width="24" height="10.9"/></clipPath></defs>
<g fill="none" stroke="#dcdcdc" stroke-width="2.85" stroke-linecap="butt" stroke-linejoin="miter">
<path d="M48.96 838.33H59.9M54.5 836.9V852.1"/>
<path d="M61.72 852.1V841.2M61.72 847.2C61.72 843.9 63.4 842.6 66.1 842.6"/>
<circle cx="72.66" cy="846.6" r="4.2"/><path d="M76.5 841.2V852.1"/>
<circle cx="85.56" cy="846.6" r="4.2"/><path d="M89.5 836.9V852.1"/>
<path d="M94.77 841.2V852.1"/>
<path d="M99.82 852.1V841.2M99.82 846.6C99.82 843.7 101.2 842.33 103.3 842.33C105.4 842.33 106.66 843.7 106.66 846.6V852.1"/>
<circle cx="115.5" cy="846.6" r="4.2"/><path d="M119.5 841.2V852.4C119.5 854.8 117.9 855.5 115.6 855.5C113.5 855.5 112.1 854.8 111.3 853.3"/>
<path d="M138.54 841.2V852.1"/>
<path d="M151.58 847.62A4.2 4.2 0 1 0 150.2 849.82"/><path d="M143.6 847.05H152.3" stroke-width="2"/>
<path clip-path="url(#lc)" d="M154.46 839.2L157.96 852.1L161.83 841.5L165.7 852.1L169.2 839.2" stroke-miterlimit="10"/>
</g>
<g fill="#dcdcdc"><circle cx="94.77" cy="838.3" r="1.8"/><circle cx="138.54" cy="838.3" r="1.8"/>
<path d="M120.6 836.9H123.8L128.35 848.4L132.9 836.9H136.1L130.0 852.1H126.7Z"/></g>
</svg>
</body></html>
